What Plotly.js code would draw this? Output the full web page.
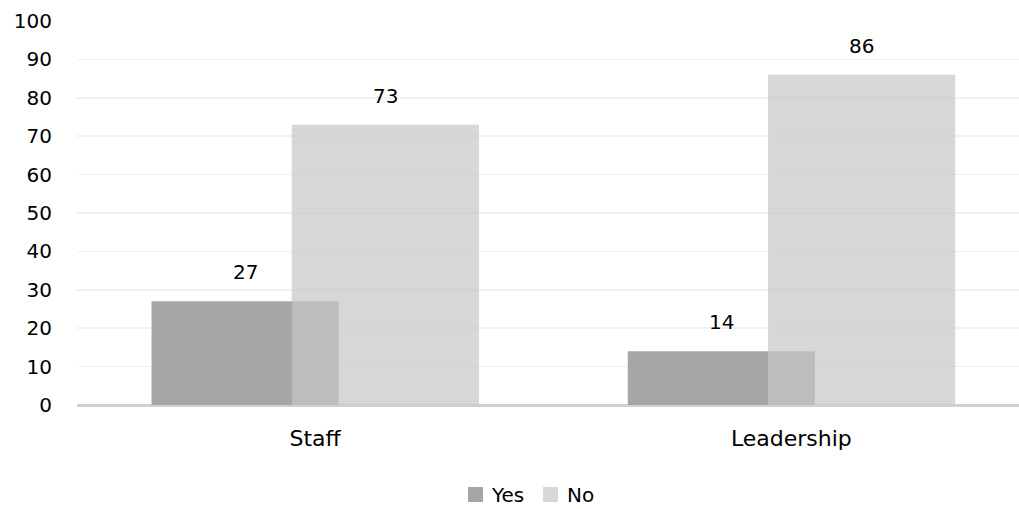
<!DOCTYPE html>
<html><head><meta charset="utf-8">
<script src="https://cdn.plot.ly/plotly-3.0.1.min.js"></script>
<style>html,body{margin:0;padding:0;background:#fff}</style>
</head><body>
<div id="chart" style="width:1019px;height:509px"></div>
<script>
const categories = ["Staff", "Leadership"];
const seriesNames = ["Yes", "No"];
const yesValues = [27, 14];
const noValues = [73, 86];
const yTicks = [0, 10, 20, 30, 40, 50, 60, 70, 80, 90, 100];

const barW = 0.393;
const yesOff = -0.3435;
const noOff = -0.049;
const FONT = "'DejaVu Sans', sans-serif";
const yesColor = "#a6a6a6";
const noColor = "rgb(197,198,199)";
const noLegendColor = "#d6d7d7";

const traces = [
  {type: "bar", name: seriesNames[0], x: categories, y: yesValues, width: barW, offset: yesOff,
   marker: {color: yesColor}, hoverinfo: "y"},
  {type: "bar", name: seriesNames[1], x: categories, y: noValues, width: barW, offset: noOff,
   marker: {color: noColor}, opacity: 0.71, hoverinfo: "y"}
];

const annotations = [];
categories.forEach((c, i) => {
  annotations.push({x: i + yesOff + barW / 2, y: yesValues[i], xref: "x", yref: "y",
    text: String(yesValues[i]), showarrow: false, yanchor: "middle", yshift: 29,
    font: {size: 20, color: "#000", family: FONT}});
  annotations.push({x: i + noOff + barW / 2, y: noValues[i], xref: "x", yref: "y",
    text: String(noValues[i]), showarrow: false, yanchor: "middle", yshift: 29,
    font: {size: 20, color: "#000", family: FONT}});
});

// manual legend (paper coordinates)
const legendItems = [
  {name: seriesNames[0], color: yesColor, x0: 0.4151, x1: 0.4310, tx: 0.4384},
  {name: seriesNames[1], color: noLegendColor, x0: 0.4947, x1: 0.5106, tx: 0.5191}
];
const shapes = [];
legendItems.forEach(it => {
  shapes.push({type: "rect", xref: "paper", yref: "paper", x0: it.x0, x1: it.x1,
    y0: -0.2526, y1: -0.2135, fillcolor: it.color, line: {width: 0}});
  annotations.push({xref: "paper", yref: "paper", x: it.tx, y: -0.2331, xanchor: "left",
    yanchor: "middle", text: it.name, showarrow: false, borderpad: 0,
    font: {size: 20, color: "#000", family: FONT}});
});

const layout = {
  width: 1019, height: 509,
  margin: {l: 77, r: 0, t: 21, b: 104, autoexpand: false},
  paper_bgcolor: "#fff", plot_bgcolor: "#fff",
  barmode: "overlay",
  font: {family: FONT, size: 20, color: "#000"},
  showlegend: false,
  xaxis: {type: "category", range: [-0.5, 1.478], showgrid: false, showline: false,
    ticks: "", ticklabelstandoff: 18, tickfont: {size: 22}, fixedrange: true},
  yaxis: {range: [0, 100], tickvals: yTicks, ticktext: yTicks.map(String),
    showgrid: true, gridcolor: "#f0f0f0", gridwidth: 1.5,
    zeroline: true, zerolinecolor: "#d0d0d0", zerolinewidth: 3,
    showline: false, ticks: "", ticklabelstandoff: 24, tickfont: {size: 20}, fixedrange: true},
  shapes: shapes,
  annotations: annotations
};

Plotly.newPlot("chart", traces, layout, {displayModeBar: false, staticPlot: true});
</script>
</body></html>
